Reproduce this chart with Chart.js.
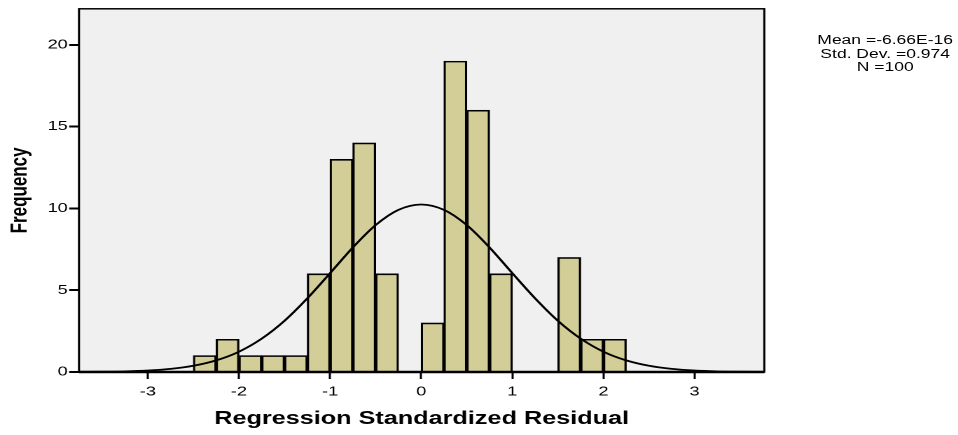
<!DOCTYPE html>
<html>
<head>
<meta charset="utf-8">
<script src="https://cdn.jsdelivr.net/npm/chart.js@4.4.1/dist/chart.umd.min.js"></script>
<style>
  html, body { margin: 0; padding: 0; background: #fff; overflow: hidden; }
  /* the reference is stretched sideways, so draw narrow and scale up */
  #wrap {
    position: relative;
    width: 684px;
    height: 435px;
    transform: scaleX(1.4006);
    transform-origin: 0 0;
  }
  #stats {
    position: absolute;
    left: 562px;
    top: 34px;
    width: 140px;
    text-align: center;
    font: 12.5px "Liberation Sans", Arial, sans-serif;
    line-height: 13.5px;
    color: #000;
  }
</style>
</head>
<body>
<div id="wrap">
  <canvas id="histChart"></canvas>
  <div id="stats">Mean =-6.66E-16<br>Std. Dev. =0.974<br>N =100</div>
</div>
<script>
// bin centres (bin width 0.25) and counts
const binCenters = [-2.375, -2.125, -1.875, -1.625, -1.375, -1.125, -0.875, -0.625, -0.375, -0.125,
                    0.125, 0.375, 0.625, 0.875, 1.125, 1.375, 1.625, 1.875, 2.125];
const counts = [1, 2, 1, 1, 1, 6, 13, 14, 6, 0,
                3, 19, 16, 6, 0, 0, 7, 2, 2];

// normal curve, every 0.25
const curveX = [-3.75, -3.5, -3.25, -3, -2.75, -2.5, -2.25, -2, -1.75, -1.5, -1.25, -1, -0.75, -0.5, -0.25, 0,
                0.25, 0.5, 0.75, 1, 1.25, 1.5, 1.75, 2, 2.25, 2.5, 2.75, 3, 3.25, 3.5, 3.75];
const curveY = [0.01, 0.02, 0.04, 0.09, 0.19, 0.38, 0.71, 1.24, 2.04, 3.13, 4.5, 6.04, 7.61, 8.98, 9.91, 10.24,
                9.91, 8.98, 7.61, 6.04, 4.5, 3.13, 2.04, 1.24, 0.71, 0.38, 0.19, 0.09, 0.04, 0.02, 0.01];

const FONT = '"Liberation Sans", Arial, sans-serif';

const plotFrame = {
    id: 'plotFrame',
    beforeDraw(chart) {
        const a = chart.chartArea;
        const c = chart.ctx;
        c.save();
        c.fillStyle = '#f0f0f0';
        c.fillRect(a.left, a.top, a.right - a.left, a.bottom - a.top);
        c.restore();
    },
    afterDatasetsDraw(chart) {
        const a = chart.chartArea;
        const c = chart.ctx;
        c.save();
        c.strokeStyle = '#000';
        c.lineWidth = 1.5;
        c.strokeRect(a.left, a.top, a.right - a.left, a.bottom - a.top);
        c.lineWidth = 2.5;
        c.beginPath();
        c.moveTo(a.left, a.bottom);
        c.lineTo(a.right, a.bottom);
        c.stroke();
        c.restore();
    }
};

const ctx = document.getElementById('histChart').getContext('2d');

new Chart(ctx, {
    type: 'bar',
    data: {
        datasets: [{
            type: 'line',
            data: curveX.map((x, i) => ({ x, y: curveY[i] })),
            borderColor: '#000',
            borderWidth: 1.8,
            pointRadius: 0,
            cubicInterpolationMode: 'monotone',
            order: 0
        }, {
            type: 'bar',
            data: binCenters.map((x, i) => ({ x, y: counts[i] })),
            backgroundColor: '#d3ce98',
            borderColor: '#000',
            borderWidth: 1.6,
            barPercentage: 1,
            categoryPercentage: 1,
            order: 1
        }]
    },
    options: {
        responsive: true,
        maintainAspectRatio: false,
        animation: false,
        devicePixelRatio: 2,
        layout: { padding: { left: 0, top: 7, right: 138.3, bottom: 0 } },
        plugins: {
            legend: { display: false },
            tooltip: { enabled: false }
        },
        scales: {
            x: {
                type: 'linear',
                offset: false,
                min: -3.755,
                max: 3.765,
                afterFit: s => { s.height = 63; },
                ticks: {
                    stepSize: 1,
                    includeBounds: false,
                    color: '#000',
                    padding: 5,
                    maxRotation: 0,
                    font: { family: FONT, size: 13 }
                },
                grid: {
                    offset: false,
                    drawOnChartArea: false,
                    tickLength: 7,
                    tickWidth: 1.5,
                    tickColor: '#000'
                },
                border: { display: false },
                title: {
                    display: true,
                    text: 'Regression Standardized Residual',
                    color: '#000',
                    padding: { top: 0, bottom: 5 },
                    font: { family: FONT, size: 18, weight: 'bold' }
                }
            },
            y: {
                min: 0,
                max: 22.2,
                afterFit: s => { s.width = 56.4; },
                ticks: {
                    stepSize: 5,
                    includeBounds: false,
                    color: '#000',
                    padding: 1,
                    font: { family: FONT, size: 13 }
                },
                grid: {
                    drawOnChartArea: false,
                    tickLength: 7,
                    tickWidth: 2,
                    tickColor: '#000'
                },
                border: { display: false },
                title: {
                    display: true,
                    text: 'Frequency',
                    color: '#000',
                    padding: { top: 4, bottom: 0 },
                    font: { family: FONT, size: 17, weight: 'bold' }
                }
            }
        }
    },
    plugins: [plotFrame]
});
</script>
</body>
</html>
